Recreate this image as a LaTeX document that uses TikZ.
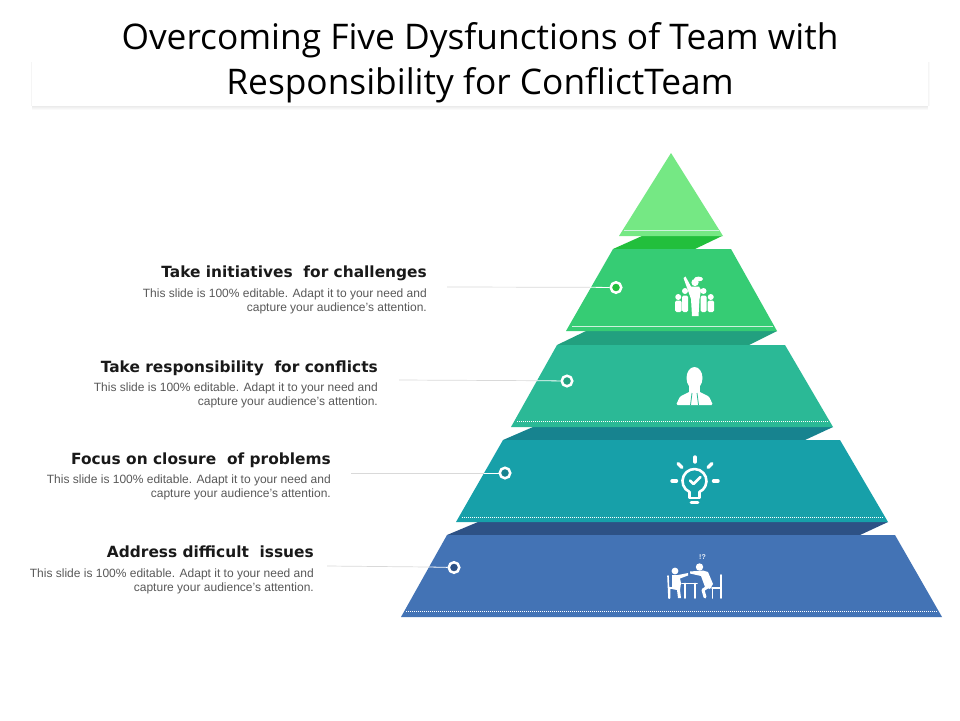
\documentclass[tikz,border=0pt]{standalone}
\usepackage{fontspec}
\setmainfont{Liberation Sans}
\newfontfamily\titlefont{Open Sans}
\newfontfamily\headfont{DejaVu Sans}

\definecolor{tierA}{HTML}{75E884}
\definecolor{tierB}{HTML}{36CC74}
\definecolor{tierC}{HTML}{2BB996}
\definecolor{tierD}{HTML}{17A0A9}
\definecolor{tierE}{HTML}{4373B5}
\definecolor{bandA}{HTML}{22BF3C}
\definecolor{bandB}{HTML}{22A07F}
\definecolor{bandC}{HTML}{17838F}
\definecolor{bandD}{HTML}{2D5185}

\begin{document}
\begin{tikzpicture}[x=1pt,y=-1pt]

\tikzstyle{headtext} = [anchor=east, inner sep=0pt, font=\headfont\bfseries\fontsize{15.4}{18}\selectfont, text=black!90]
\tikzstyle{bodytext} = [anchor=north east, align=right, inner sep=0pt, font=\fontsize{12}{14}\selectfont, text=black!65]
\tikzstyle{dot} = [circle, draw=white, line width=2.5pt, minimum size=10.5pt, inner sep=0pt]
\tikzstyle{leader} = [line width=0.7pt, draw=black!15]
\tikzstyle{leaderin} = [line width=0.8pt, draw=white!75]
\tikzstyle{iconline} = [draw=white, line width=2.6pt, line cap=round, line join=round]
\tikzstyle{edgeline} = [white!75!tierB, line width=0.7pt]
\tikzstyle{dotline} = [white, line width=0.8pt, dash pattern=on 1pt off 1pt]

\useasboundingbox (0,0) rectangle (960,720);
\fill [white] (0,0) rectangle (960,720);

% Title
\foreach \spread/\shade in {4/2, 3/4, 2/6, 1/8} {
  \fill [black!\shade] (32,104) rectangle (928,106+\spread);
}
\foreach \spread/\shade in {1.5/2, 0.7/4} {
  \fill [black!\shade] (32-\spread,62) rectangle (928+\spread,106);
}
\node (band) [fill=white, minimum width=896pt, minimum height=46pt, inner sep=0pt] at (480,83) {};
\node (title) [align=center, inner sep=0pt, font=\titlefont\fontsize{35.3}{45}\selectfont] at (480,63) {Overcoming Five Dysfunctions of Team with\\Responsibility for ConflictTeam};

% Pyramid
\fill [bandA] (613,249) -- (642,236) -- (722,236) -- (695,249) -- cycle;
\fill [bandB] (557,345) -- (586,331) -- (777,331) -- (749,345) -- cycle;
\fill [bandC] (503,440) -- (533,427) -- (833,427) -- (805,440) -- cycle;
\fill [bandD] (447,535) -- (478,522) -- (888,522) -- (860,535) -- cycle;

\fill [tierA] (671,153) -- (723,236) -- (619,236) -- cycle;
\fill [tierB] (613,249) -- (731,249) -- (777,331) -- (566,331) -- cycle;
\fill [tierC] (557,345) -- (785,345) -- (833,427) -- (511,427) -- cycle;
\fill [tierD] (503,440) -- (840,440) -- (888,522) -- (456,522) -- cycle;
\fill [tierE] (447,535) -- (895,535) -- (942,617) -- (401,617) -- cycle;

\draw [edgeline] (624,230) -- (719,230);
\draw [edgeline] (572,326.5) -- (773,326.5);
\draw [dotline] (517,421.5) -- (828,421.5);
\draw [dotline] (462,517.5) -- (883,517.5);
\draw [dotline] (406,611) -- (937,611);

% Labels
\node (head1) [headtext] at (427,273) {Take initiatives\ \ for challenges};
\node (body1) [bodytext] at (427,289) {This slide is 100\% editable. Adapt it to your need and\\capture your audience’s attention.};
\node (head2) [headtext] at (378,368) {Take responsibility\ \ for conflicts};
\node (body2) [bodytext] at (378,383) {This slide is 100\% editable. Adapt it to your need and\\capture your audience’s attention.};
\node (head3) [headtext] at (331,460) {Focus on closure\ \ of problems};
\node (body3) [bodytext] at (331,475) {This slide is 100\% editable. Adapt it to your need and\\capture your audience’s attention.};
\node (head4) [headtext] at (314,552) {Address difficult\ \ issues};
\node (body4) [bodytext] at (314,569) {This slide is 100\% editable. Adapt it to your need and\\capture your audience’s attention.};

% Leaders and dots
\coordinate (free1) at (447,287);
\coordinate (free2) at (399,380);
\coordinate (free3) at (351,473);
\coordinate (free4) at (327,566);
\coordinate (edge1) at (590,287.3);
\coordinate (edge2) at (537,380.7);
\coordinate (edge3) at (484,473);
\coordinate (edge4) at (429,567);
\node (dot1) [dot, fill=bandA] at (616,287.5) {};
\node (dot2) [dot, fill=bandB] at (567,381) {};
\node (dot3) [dot, fill=bandC] at (505,473) {};
\node (dot4) [dot, fill=bandD] at (454,567.5) {};
\draw [leader] (free1) -- (edge1);
\draw [leader] (free2) -- (edge2);
\draw [leader] (free3) -- (edge3);
\draw [leader] (free4) -- (edge4);
\draw [leaderin] (edge1) -- (dot1);
\draw [leaderin] (edge2) -- (dot2);
\draw [leaderin] (edge3) -- (dot3);
\draw [leaderin] (edge4) -- (dot4);

% People icon
\fill [white] (695,282.5) circle (3.6);
\fill [white] (698.5,279) ellipse (4.5 and 2.4);
\fill [white] (685.5,276.5) -- (691,286.5) -- (699,286.5) -- (701,290) -- (699.5,299) -- (698.5,316) -- (692,316) -- (691,299) -- (688.5,292) -- (683.5,278) -- cycle;
\foreach \px/\py/\pw/\pt in {675/297/6.5/300.5, 682/291/6/295.5, 700.5/291/6/295.5, 707.5/297/6.5/300.5} {
  \fill [white] (\px+\pw/2,\py) circle (3);
  \fill [white, rounded corners=1.5pt] (\px,\pt) rectangle (\px+\pw,312);
}

% Person icon
\fill [white] (694.5,378) ellipse (8 and 11);
\fill [white] (689,385) rectangle (700,394);
\fill [white, rounded corners=1.5pt] (676,405) -- (680,396.5) -- (690,391.5) -- (699,391.5) -- (709,396.5) -- (713,405) -- cycle;
\draw [tierC, line width=0.8pt] (692,393) -- (690.5,405);
\draw [tierC, line width=0.8pt] (697,393) -- (698.5,405);

% Bulb icon
\draw [iconline] (689.4,491.9) arc (115:425:12);
\draw [iconline] (689.4,491.9) -- (689.4,498) -- (699.6,498) -- (699.6,491.9);
\draw [iconline] (691,502.5) -- (698,502.5);
\draw [iconline] (690,480.5) -- (693.5,484) -- (700.5,477);
\draw [iconline, line width=3.4pt] (695,457) -- (695,462);
\draw [iconline, line width=3.4pt] (678,463.5) -- (682,467.5);
\draw [iconline, line width=3.4pt] (712,463.5) -- (708,467.5);
\draw [iconline, line width=3.4pt] (672,481) -- (676.5,481);
\draw [iconline, line width=3.4pt] (713.5,481) -- (718,481);

% Meeting icon
\fill [white] (675,571) circle (3.4);
\fill [white] (699.5,567) circle (3.7);
\draw [iconline, line width=1.6pt] (668,576) -- (669,598) (669,588) -- (679,588) (669.5,598) -- (669.5,588);
\fill [white] (672,575) -- (678,575) -- (688,573) -- (688,575.5) -- (680,578.5) -- (681,583) -- (680,590) -- (681,598) -- (678,598) -- (677,590) -- (672,589) -- cycle;
\draw [iconline, line width=1.8pt] (682,583.5) -- (697,583.5) (685,583.5) -- (685,598) (695,583.5) -- (695,598);
\draw [iconline, line width=1.6pt] (721,575) -- (721,598) (712,588) -- (721,588) (712.5,588) -- (712.5,598);
\fill [white] (703,570.5) -- (708,572) -- (713,584) -- (710,589) -- (705,587) -- (701,576) -- (690,573.5) -- (690,571.5) -- cycle;
\draw [iconline, line width=3pt] (709,586) -- (703,590) -- (705,597);
\node (query) [inner sep=0pt, text=white!90!tierE, font=\bfseries\fontsize{7}{7}\selectfont] at (702.5,557) {!?};

\end{tikzpicture}
\end{document}
